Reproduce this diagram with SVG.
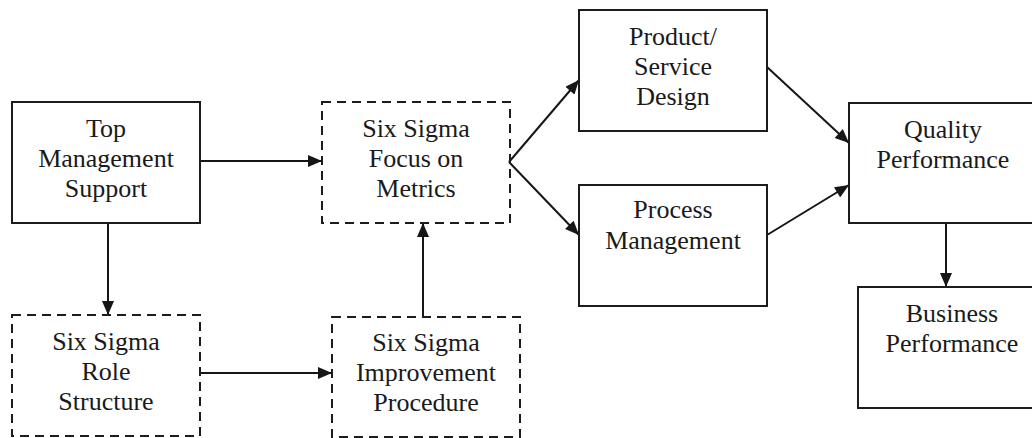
<svg xmlns="http://www.w3.org/2000/svg" width="1032" height="438" viewBox="0 0 1032 438">
<defs>
<marker id="ah" viewBox="0 0 14 12" refX="14" refY="6" markerWidth="15" markerHeight="12" markerUnits="userSpaceOnUse" orient="auto">
<path d="M0,0 L14,6 L0,12 z" fill="#161616"/>
</marker>
<style>
.box{fill:none;stroke:#1c1c1c;stroke-width:2}
.dash{fill:none;stroke:#1c1c1c;stroke-width:2;stroke-dasharray:9 6}
.lbl{font-family:"Liberation Serif","Times New Roman",serif;font-size:26px;fill:#1a1a1a;text-anchor:middle}
.con{stroke:#161616;stroke-width:2;fill:none;marker-end:url(#ah)}
</style>
</defs>
<rect width="1032" height="438" fill="#ffffff"/>
<g id="connectors">
<line class="con" x1="200" y1="161" x2="322" y2="161"/>
<line class="con" x1="108" y1="223" x2="108" y2="315"/>
<line class="con" x1="200" y1="373" x2="332" y2="373"/>
<line class="con" x1="423" y1="317" x2="423" y2="223"/>
<line class="con" x1="509" y1="162" x2="579" y2="80"/>
<line class="con" x1="509" y1="162" x2="579" y2="235"/>
<line class="con" x1="767" y1="67" x2="849" y2="143"/>
<line class="con" x1="767" y1="235" x2="849" y2="185"/>
<line class="con" x1="946" y1="223" x2="946" y2="287"/>
</g>
<g id="top-management">
<rect class="box" x="12" y="102" width="188" height="121"/>
<text class="lbl" x="106" y="137">Top</text>
<text class="lbl" x="106" y="167">Management</text>
<text class="lbl" x="106" y="197">Support</text>
</g>
<g id="focus-metrics">
<rect class="dash" x="322" y="102" width="188" height="121"/>
<text class="lbl" x="416" y="137">Six Sigma</text>
<text class="lbl" x="416" y="167">Focus on</text>
<text class="lbl" x="416" y="197">Metrics</text>
</g>
<g id="role-structure">
<rect class="dash" x="12" y="315" width="188" height="121"/>
<text class="lbl" x="106" y="350">Six Sigma</text>
<text class="lbl" x="106" y="380">Role</text>
<text class="lbl" x="106" y="410">Structure</text>
</g>
<g id="improvement-procedure">
<rect class="dash" x="332" y="317" width="188" height="120"/>
<text class="lbl" x="426" y="351">Six Sigma</text>
<text class="lbl" x="426" y="381">Improvement</text>
<text class="lbl" x="426" y="411">Procedure</text>
</g>
<g id="product-design">
<rect class="box" x="579" y="10" width="188" height="121"/>
<text class="lbl" x="673" y="45">Product/</text>
<text class="lbl" x="673" y="75">Service</text>
<text class="lbl" x="673" y="105">Design</text>
</g>
<g id="process-management">
<rect class="box" x="579" y="185" width="188" height="121"/>
<text class="lbl" x="673" y="218">Process</text>
<text class="lbl" x="673" y="249">Management</text>
</g>
<g id="quality-performance">
<rect class="box" x="849" y="103" width="190" height="120"/>
<text class="lbl" x="943" y="138">Quality</text>
<text class="lbl" x="943" y="168">Performance</text>
</g>
<g id="business-performance">
<rect class="box" x="858" y="287" width="190" height="121"/>
<text class="lbl" x="952" y="322">Business</text>
<text class="lbl" x="952" y="352">Performance</text>
</g>
</svg>
